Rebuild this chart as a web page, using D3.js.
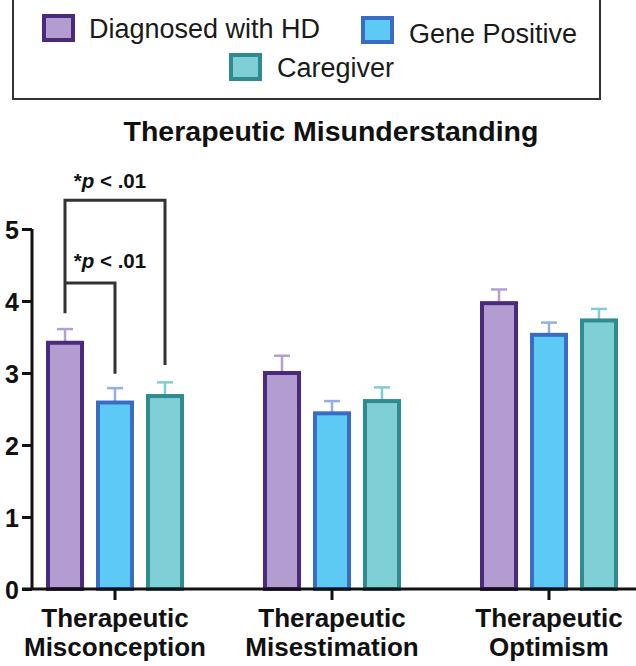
<!DOCTYPE html>
<html>
<head>
<meta charset="utf-8">
<script src="https://cdn.jsdelivr.net/npm/d3@7"></script>
<style>
  html, body { margin: 0; padding: 0; background: #fff; }
  svg { display: block; font-family: "Liberation Sans", Arial, Helvetica, sans-serif; }
</style>
</head>
<body>
<svg id="chart" width="636" height="666"></svg>
<script>
// ---- data ----
const categories = [["Therapeutic", "Misconception"], ["Therapeutic", "Misestimation"], ["Therapeutic", "Optimism"]];
const seriesNames = ["Diagnosed with HD", "Gene Positive", "Caregiver"];
const hdValues = [3.42, 3.00, 3.97];
const geneValues = [2.59, 2.44, 3.53];
const careValues = [2.68, 2.61, 3.73];
const hdErrors = [0.19, 0.24, 0.19];
const geneErrors = [0.20, 0.17, 0.17];
const careErrors = [0.19, 0.19, 0.16];
const yTicks = [0, 1, 2, 3, 4, 5];
const title = "Therapeutic Misunderstanding";
const sigLabel = "< .01";

// ---- styles ----
const fills = ["#b39ccf", "#5ccaf5", "#7fcfd6"];
const strokes = ["#4a2a7c", "#3b6cc4", "#2e8b8f"];
const errColors = ["#b49fd2", "#93aee3", "#7fcdd2"];

const svg = d3.select("#chart");
const values = [hdValues, geneValues, careValues];
const errors = [hdErrors, geneErrors, careErrors];
const catKeys = categories.map(c => c.join(" "));

const y = d3.scaleLinear().domain([0, 5]).range([589, 229]);
const x0 = d3.scaleBand().domain(catKeys).range([6.5, 657.5]).padding(0);
const x1 = d3.scaleBand().domain(seriesNames).range([33.5, 183.5]).paddingInner(0.32).paddingOuter(0.16);

// legend
const lg = svg.append("g");
lg.append("rect").attr("x", 13).attr("y", -1).attr("width", 587).attr("height", 100)
  .attr("fill", "none").attr("stroke", "#333").attr("stroke-width", 2);
const legendPos = [
  {sx: 44, sy: 16, tx: 89, ty: 38},
  {sx: 363, sy: 18, tx: 409, ty: 43},
  {sx: 231, sy: 55, tx: 277, ty: 77}
];
seriesNames.forEach((s, i) => {
  const p = legendPos[i];
  lg.append("rect").attr("x", p.sx).attr("y", p.sy).attr("width", 29).attr("height", 24)
    .attr("fill", fills[i]).attr("stroke", strokes[i]).attr("stroke-width", 4);
  lg.append("text").attr("x", p.tx).attr("y", p.ty).attr("font-size", 27).attr("fill", "#1a1a1a").text(s);
});

// title
svg.append("text").attr("x", 331).attr("y", 141).attr("text-anchor", "middle")
  .attr("font-size", 28.5).attr("font-weight", "bold").attr("fill", "#111").text(title);

// bars
const rows = [];
catKeys.forEach((c, ci) => seriesNames.forEach((s, si) => rows.push({c, s, si, v: values[si][ci], e: errors[si][ci]})));

const g = svg.append("g");
// error bars (upper only) drawn first
rows.forEach(d => {
  const cx = x0(d.c) + x1(d.s) + x1.bandwidth() / 2;
  g.append("line").attr("x1", cx).attr("x2", cx).attr("y1", y(d.v)).attr("y2", y(d.v + d.e))
    .attr("stroke", errColors[d.si]).attr("stroke-width", 2.5);
  g.append("line").attr("x1", cx - 8).attr("x2", cx + 8).attr("y1", y(d.v + d.e)).attr("y2", y(d.v + d.e))
    .attr("stroke", errColors[d.si]).attr("stroke-width", 2.5);
});
g.selectAll("rect.bar").data(rows).join("rect").attr("class", "bar")
  .attr("x", d => x0(d.c) + x1(d.s))
  .attr("y", d => y(d.v))
  .attr("width", x1.bandwidth())
  .attr("height", d => y(0) - y(d.v))
  .attr("fill", d => fills[d.si])
  .attr("stroke", d => strokes[d.si])
  .attr("stroke-width", 4);

// y axis
const yAxis = d3.axisLeft(y).tickValues(yTicks).tickFormat(d3.format("d")).tickSize(10).tickPadding(3);
const ya = svg.append("g").attr("transform", "translate(32,0)").call(yAxis);
ya.select(".domain").attr("stroke", "#111").attr("stroke-width", 3).attr("d", `M0,${y(5)}V${y(0)}`);
ya.selectAll(".tick line").attr("stroke", "#111").attr("stroke-width", 3);
ya.selectAll(".tick text").attr("font-size", 25).attr("font-weight", "bold").attr("fill", "#111")
  .attr("font-family", "Liberation Sans, Arial, sans-serif").attr("dy", "0.36em");

// x axis
const xAxis = d3.axisBottom(x0).tickSize(11).tickFormat("");
const xa = svg.append("g").attr("transform", `translate(0,${y(0)})`).call(xAxis);
xa.select(".domain").attr("stroke", "#111").attr("stroke-width", 3).attr("d", "M22,0H636");
xa.selectAll(".tick line").attr("stroke", "#111").attr("stroke-width", 3);
catKeys.forEach((c, ci) => {
  const t = svg.append("text").attr("x", x0(c) + x0.bandwidth() / 2).attr("text-anchor", "middle")
    .attr("font-size", 26).attr("font-weight", "bold").attr("fill", "#111");
  t.append("tspan").attr("x", x0(c) + x0.bandwidth() / 2).attr("y", 627).text(categories[ci][0]);
  t.append("tspan").attr("x", x0(c) + x0.bandwidth() / 2).attr("y", 656).text(categories[ci][1]);
});

// significance brackets (first category)
const c0 = catKeys[0];
const cxOf = s => x0(c0) + x1(s) + x1.bandwidth() / 2;
const bg = svg.append("g").attr("fill", "none").attr("stroke", "#333").attr("stroke-width", 3);
const xa0 = cxOf(seriesNames[0]), xb = cxOf(seriesNames[1]), xc = cxOf(seriesNames[2]);
bg.append("path").attr("d", `M${xa0},${y(3.83)}V${y(5.40)}H${xc}V${y(3.11)}`);
bg.append("path").attr("d", `M${xa0},${y(4.25)}H${xb}V${y(2.99)}`);
function sig(yv) {
  const t = svg.append("text").attr("x", (xa0 + xc) / 2 - 5).attr("y", yv).attr("text-anchor", "middle")
    .attr("font-size", 20.5).attr("font-weight", "bold").attr("fill", "#111");
  t.append("tspan").text("*");
  t.append("tspan").attr("font-style", "italic").text("p");
  t.append("tspan").text(" " + sigLabel);
}
sig(188);
sig(268);
</script>
</body>
</html>
